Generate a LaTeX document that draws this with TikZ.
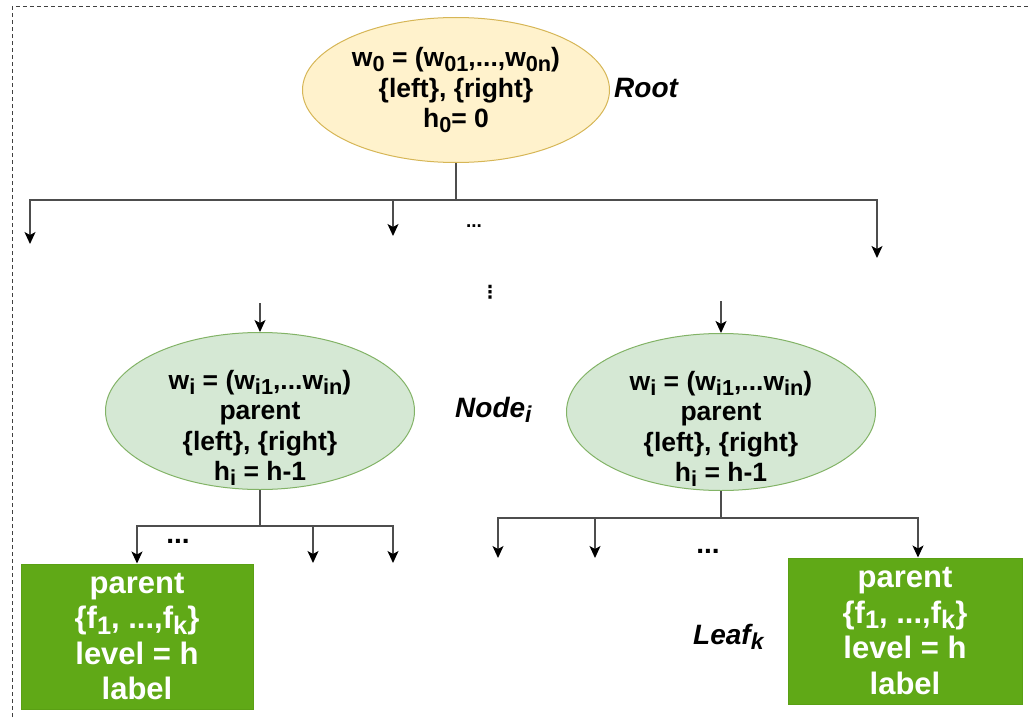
\documentclass[tikz,border=0pt]{standalone}
\usepackage{fontspec}
\setmainfont{Liberation Sans}
\newfontfamily\dejavu{DejaVu Sans}
\usetikzlibrary{shapes.geometric,arrows.meta}
\definecolor{yellowfill}{HTML}{FFF2CC}
\definecolor{yellowstroke}{HTML}{D6B656}
\definecolor{greenfill}{HTML}{D5E8D4}
\definecolor{greenstroke}{HTML}{82B366}
\definecolor{leaffill}{HTML}{60A917}
\definecolor{leafstroke}{HTML}{5AA014}
\definecolor{linegray}{HTML}{4D4D4D}
\newcommand{\sbs}[1]{\raisebox{-0.35ex}{\scalebox{0.82}{#1}}}
\newcommand{\lowered}[1]{\makebox[0pt]{\raisebox{-24pt}[0pt][0pt]{\begin{tabular}{@{}c@{}}#1\end{tabular}}}}
\begin{document}
\begin{tikzpicture}[x=1pt,y=-1pt,
  conn/.style={draw=linegray, line width=1.3pt},
  arr/.style={conn, -{Stealth[length=12pt,width=11pt,inset=3pt,color=black]}},
  ellbase/.style={ellipse, line width=1pt, inner sep=0pt, align=center,
    font=\fontsize{26.5}{30.5}\selectfont\bfseries},
  rootell/.style={ellbase, draw=yellowstroke, fill=yellowfill, minimum width=307pt, minimum height=145pt},
  midell/.style={ellbase, draw=greenstroke, fill=greenfill, minimum width=309pt, minimum height=157pt},
  leafbox/.style={rectangle, draw=leafstroke, fill=leaffill, line width=1pt, text=white, inner sep=0pt,
    align=center, minimum width=232pt, minimum height=145pt, font=\fontsize{31}{35.5}\selectfont\bfseries},
  tag/.style={anchor=west, inner sep=0pt, font=\fontsize{28}{32}\selectfont\bfseries\itshape},
  dots/.style={inner sep=0pt, font=\fontsize{28}{28}\selectfont\bfseries},
  frame/.style={draw=black!75, line width=1pt, dash pattern=on 4pt off 3pt}
]
\useasboundingbox (0,0) rectangle (1030,717);
\draw[frame] (12,717) -- (12,7) -- (1030,7);

% nodes
\node[rootell] (root) at (456,90) {w\sbs{0} = (w\sbs{01},...,w\sbs{0n})\\ \{left\}, \{right\}\\ h\sbs{0}= 0};
\node[tag] (roottag) at (614,88) {Root};

\node[midell] (n1) at (260,411) {\lowered{w\sbs{i} = (w\sbs{i1},...w\sbs{in})\\ parent\\ \{left\}, \{right\}\\ h\sbs{i} = h-1}};
\node[midell] (n2) at (721,412) {\lowered{w\sbs{i} = (w\sbs{i1},...w\sbs{in})\\ parent\\ \{left\}, \{right\}\\ h\sbs{i} = h-1}};
\node[tag] (nodetag) at (455,410) {Node\sbs{i}};

\node[leafbox] (leaf1) at (137,636.5) {parent\\ \{f\sbs{1}, ...,f\sbs{k}\}\\ level = h\\ label};
\node[leafbox, minimum width=234pt, minimum height=146pt] (leaf2) at (905,631) {parent\\ \{f\sbs{1}, ...,f\sbs{k}\}\\ level = h\\ label};
\node[tag] (leaftag) at (693,637) {Leaf\sbs{k}};

\node[dots, font=\fontsize{19}{19}\selectfont\bfseries] (d1) at (474,226) {...};
\node[inner sep=0pt, font=\dejavu\fontsize{18}{18}\selectfont\bfseries] (d2) at (490,292) {⋮};
\node[dots] (d3) at (178,541) {...};
\node[dots] (d4) at (708,551) {...};

% coordinates
\coordinate (rj) at (456,200);
\coordinate (a1) at (30,244);
\coordinate (a2) at (393,236);
\coordinate (a3) at (877,258);
\coordinate (in1) at (260,303);
\coordinate (in2) at (721,301);
\coordinate (j1) at (260,526);
\coordinate (b2) at (313,563);
\coordinate (b3) at (393,563);
\coordinate (j2) at (721,518);
\coordinate (c1) at (498,558);
\coordinate (c2) at (595,558);

% connectors
\draw[conn] (root.south) -- (rj);
\draw[arr] (rj) -| (a1);
\draw[arr] (rj) -| (a2);
\draw[arr] (rj) -| (a3);

\draw[arr] (in1) -- (n1.north);
\draw[arr] (in2) -- (n2.north);

\draw[conn] (n1.south) -- (j1);
\draw[arr] (j1) -| (leaf1.north);
\draw[arr] (j1) -| (b2);
\draw[arr] (j1) -| (b3);

\draw[conn] (n2.south) -- (j2);
\draw[arr] (j2) -| (c1);
\draw[arr] (j2) -| (c2);
\draw[arr] (j2) -| ([xshift=13pt]leaf2.north);
\end{tikzpicture}
\end{document}
